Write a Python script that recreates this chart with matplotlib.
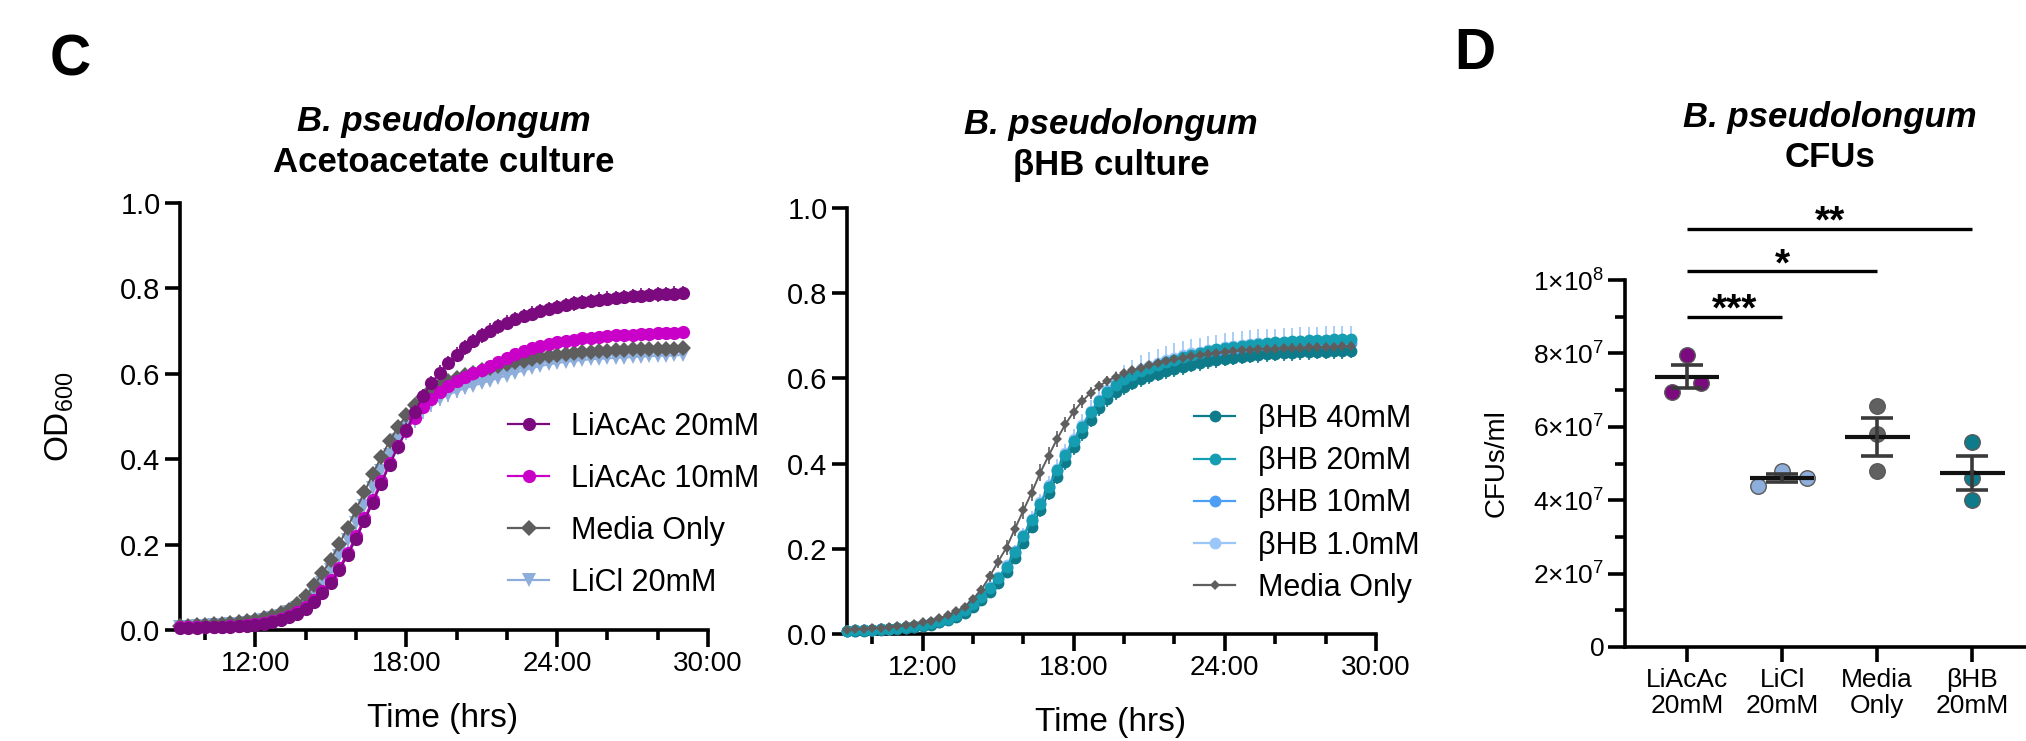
import numpy as np
import matplotlib
matplotlib.use("Agg")
import matplotlib.pyplot as plt
from matplotlib.lines import Line2D
from matplotlib.ticker import FuncFormatter

# =====================================================
# SETUP
# =====================================================

W, H = 2026, 741

plt.rcParams.update({
    "font.family": ["Liberation Sans", "DejaVu Sans"],
    "mathtext.fontset": "custom",
    "mathtext.rm": "Liberation Sans",
    "mathtext.it": "Liberation Sans:italic",
    "mathtext.bf": "Liberation Sans:bold",
    "axes.linewidth": 2.6,
    "xtick.major.width": 2.6,
    "ytick.major.width": 2.6,
    "xtick.minor.width": 2.6,
    "ytick.minor.width": 2.6,
    "text.color": "black",
})

PURPLE = "#7B0A7E"
MAGENTA = "#C800C8"
GRAY = "#5E5E5E"
LIGHTBLUE = "#8DAEDB"
TEAL_DK = "#0E7B8B"
TEAL = "#159DB1"
BLUE = "#4D9EF5"
BLUE_LT = "#9AC6F8"

# =====================================================
# DATA
# =====================================================

# plate reader, one read every 20 min from 9:00 to 29:00
time_h = 9 + np.arange(61) / 3

# --- C, acetoacetate culture ---
liacac20 = [
    0.005, 0.005, 0.005, 0.006, 0.006, 0.007, 0.008, 0.009, 0.010, 0.012,
    0.015, 0.019, 0.024, 0.030, 0.038, 0.050, 0.066, 0.086, 0.110, 0.140,
    0.175, 0.213, 0.255, 0.298, 0.342, 0.386, 0.428, 0.468, 0.510, 0.548,
    0.578, 0.603, 0.625, 0.645, 0.662, 0.677, 0.690, 0.701, 0.711, 0.720,
    0.728, 0.735, 0.741, 0.747, 0.752, 0.757, 0.761, 0.765, 0.768, 0.771,
    0.774, 0.776, 0.778, 0.780, 0.782, 0.783, 0.785, 0.786, 0.787, 0.788,
    0.789]
liacac20_err = [
    0.002, 0.002, 0.002, 0.002, 0.002, 0.002, 0.002, 0.002, 0.002, 0.003,
    0.003, 0.003, 0.004, 0.004, 0.005, 0.006, 0.007, 0.008, 0.009, 0.010,
    0.011, 0.012, 0.013, 0.014, 0.015, 0.015, 0.016, 0.016, 0.017, 0.017,
    0.017, 0.017, 0.017, 0.017, 0.017, 0.017, 0.017, 0.017, 0.017, 0.017,
    0.017, 0.017, 0.017, 0.017, 0.017, 0.017, 0.017, 0.017, 0.017, 0.017,
    0.017, 0.017, 0.017, 0.017, 0.017, 0.017, 0.017, 0.017, 0.017, 0.017,
    0.017]

liacac10 = [
    0.006, 0.006, 0.006, 0.007, 0.007, 0.008, 0.009, 0.010, 0.011, 0.013,
    0.016, 0.020, 0.025, 0.032, 0.041, 0.054, 0.070, 0.091, 0.116, 0.146,
    0.181, 0.220, 0.262, 0.305, 0.348, 0.390, 0.430, 0.465, 0.497, 0.522,
    0.542, 0.558, 0.571, 0.582, 0.592, 0.601, 0.610, 0.619, 0.628, 0.637,
    0.646, 0.653, 0.660, 0.665, 0.670, 0.674, 0.677, 0.680, 0.683, 0.685,
    0.687, 0.689, 0.690, 0.691, 0.692, 0.693, 0.694, 0.695, 0.695, 0.696,
    0.697]
liacac10_err = [
    0.002, 0.002, 0.002, 0.002, 0.002, 0.002, 0.002, 0.002, 0.002, 0.003,
    0.003, 0.003, 0.004, 0.005, 0.006, 0.007, 0.008, 0.009, 0.010, 0.011,
    0.012, 0.012, 0.011, 0.010, 0.009, 0.008, 0.007, 0.006, 0.006, 0.006,
    0.006, 0.006, 0.006, 0.006, 0.006, 0.006, 0.006, 0.006, 0.006, 0.006,
    0.006, 0.006, 0.006, 0.006, 0.006, 0.006, 0.006, 0.006, 0.006, 0.006,
    0.006, 0.006, 0.006, 0.006, 0.006, 0.006, 0.006, 0.006, 0.006, 0.006,
    0.006]

media_c = [
    0.010, 0.010, 0.011, 0.012, 0.013, 0.014, 0.016, 0.018, 0.020, 0.023,
    0.027, 0.032, 0.039, 0.048, 0.061, 0.080, 0.105, 0.133, 0.165, 0.201,
    0.240, 0.282, 0.323, 0.365, 0.405, 0.442, 0.475, 0.503, 0.526, 0.546,
    0.562, 0.574, 0.583, 0.591, 0.597, 0.603, 0.608, 0.613, 0.618, 0.623,
    0.627, 0.631, 0.635, 0.639, 0.642, 0.645, 0.647, 0.649, 0.651, 0.652,
    0.653, 0.654, 0.655, 0.656, 0.657, 0.657, 0.658, 0.658, 0.659, 0.659,
    0.660]
media_c_err = [
    0.002, 0.002, 0.002, 0.002, 0.002, 0.002, 0.002, 0.002, 0.002, 0.003,
    0.003, 0.003, 0.004, 0.005, 0.006, 0.007, 0.008, 0.009, 0.010, 0.011,
    0.012, 0.012, 0.012, 0.011, 0.010, 0.009, 0.008, 0.007, 0.006, 0.006,
    0.005, 0.005, 0.005, 0.005, 0.005, 0.005, 0.005, 0.005, 0.005, 0.005,
    0.005, 0.005, 0.005, 0.005, 0.005, 0.005, 0.005, 0.005, 0.005, 0.005,
    0.005, 0.005, 0.005, 0.005, 0.005, 0.005, 0.005, 0.005, 0.005, 0.005,
    0.005]

licl = [
    0.008, 0.008, 0.009, 0.010, 0.011, 0.012, 0.013, 0.015, 0.017, 0.019,
    0.023, 0.027, 0.033, 0.041, 0.052, 0.067, 0.087, 0.111, 0.140, 0.173,
    0.210, 0.250, 0.290, 0.332, 0.372, 0.410, 0.444, 0.474, 0.498, 0.517,
    0.531, 0.542, 0.551, 0.559, 0.566, 0.572, 0.578, 0.584, 0.590, 0.596,
    0.602, 0.608, 0.613, 0.618, 0.622, 0.625, 0.628, 0.630, 0.632, 0.634,
    0.635, 0.636, 0.637, 0.638, 0.639, 0.640, 0.641, 0.642, 0.642, 0.643,
    0.644]
licl_err = [
    0.002, 0.002, 0.002, 0.002, 0.002, 0.002, 0.002, 0.002, 0.002, 0.003,
    0.003, 0.004, 0.005, 0.006, 0.008, 0.010, 0.013, 0.016, 0.020, 0.025,
    0.030, 0.035, 0.038, 0.040, 0.040, 0.038, 0.035, 0.030, 0.026, 0.022,
    0.020, 0.018, 0.016, 0.015, 0.014, 0.013, 0.012, 0.011, 0.010, 0.010,
    0.010, 0.010, 0.010, 0.010, 0.010, 0.010, 0.010, 0.010, 0.010, 0.010,
    0.010, 0.010, 0.010, 0.010, 0.010, 0.010, 0.010, 0.010, 0.010, 0.010,
    0.010]

# --- C, bHB culture ---
bhb40 = [
    0.007, 0.008, 0.008, 0.009, 0.010, 0.011, 0.012, 0.014, 0.016, 0.019,
    0.022, 0.027, 0.033, 0.040, 0.050, 0.063, 0.079, 0.098, 0.120, 0.146,
    0.178, 0.214, 0.252, 0.290, 0.330, 0.368, 0.404, 0.438, 0.471, 0.503,
    0.530, 0.551, 0.567, 0.580, 0.590, 0.598, 0.605, 0.611, 0.617, 0.622,
    0.627, 0.632, 0.636, 0.640, 0.643, 0.646, 0.649, 0.651, 0.653, 0.655,
    0.657, 0.658, 0.659, 0.660, 0.661, 0.662, 0.663, 0.663, 0.664, 0.664,
    0.665]
bhb40_err = [
    0.002, 0.002, 0.002, 0.002, 0.002, 0.002, 0.002, 0.002, 0.002, 0.003,
    0.003, 0.003, 0.004, 0.005, 0.006, 0.007, 0.008, 0.009, 0.010, 0.011,
    0.012, 0.013, 0.014, 0.015, 0.016, 0.017, 0.018, 0.018, 0.018, 0.018,
    0.018, 0.018, 0.018, 0.018, 0.018, 0.018, 0.018, 0.018, 0.018, 0.018,
    0.018, 0.018, 0.018, 0.018, 0.018, 0.018, 0.018, 0.018, 0.018, 0.018,
    0.018, 0.018, 0.018, 0.018, 0.018, 0.018, 0.018, 0.018, 0.018, 0.018,
    0.018]

bhb20 = [
    0.008, 0.009, 0.009, 0.010, 0.011, 0.012, 0.014, 0.016, 0.018, 0.021,
    0.025, 0.030, 0.036, 0.044, 0.056, 0.071, 0.088, 0.108, 0.131, 0.158,
    0.192, 0.230, 0.268, 0.305, 0.345, 0.384, 0.420, 0.454, 0.487, 0.520,
    0.548, 0.569, 0.585, 0.598, 0.608, 0.617, 0.625, 0.632, 0.638, 0.644,
    0.650, 0.655, 0.660, 0.664, 0.668, 0.671, 0.674, 0.677, 0.679, 0.681,
    0.683, 0.685, 0.686, 0.687, 0.688, 0.689, 0.690, 0.691, 0.692, 0.692,
    0.693]
bhb20_err = [
    0.002, 0.002, 0.002, 0.002, 0.002, 0.002, 0.002, 0.002, 0.002, 0.003,
    0.003, 0.003, 0.004, 0.005, 0.006, 0.007, 0.007, 0.008, 0.008, 0.009,
    0.009, 0.010, 0.010, 0.010, 0.010, 0.010, 0.010, 0.010, 0.010, 0.010,
    0.010, 0.010, 0.010, 0.010, 0.010, 0.010, 0.010, 0.010, 0.010, 0.010,
    0.010, 0.010, 0.010, 0.010, 0.010, 0.010, 0.010, 0.010, 0.010, 0.010,
    0.010, 0.010, 0.010, 0.010, 0.010, 0.010, 0.010, 0.010, 0.010, 0.010,
    0.010]

bhb10 = [
    0.008, 0.008, 0.009, 0.010, 0.011, 0.012, 0.013, 0.015, 0.017, 0.020,
    0.024, 0.029, 0.035, 0.043, 0.054, 0.069, 0.086, 0.106, 0.129, 0.156,
    0.190, 0.228, 0.266, 0.304, 0.344, 0.383, 0.419, 0.453, 0.486, 0.518,
    0.545, 0.566, 0.582, 0.595, 0.605, 0.614, 0.622, 0.629, 0.635, 0.641,
    0.646, 0.651, 0.655, 0.659, 0.662, 0.665, 0.668, 0.670, 0.672, 0.674,
    0.675, 0.676, 0.677, 0.678, 0.679, 0.680, 0.680, 0.681, 0.681, 0.682,
    0.682]
bhb10_err = [
    0.002, 0.002, 0.002, 0.002, 0.002, 0.002, 0.002, 0.002, 0.002, 0.003,
    0.003, 0.003, 0.004, 0.005, 0.006, 0.007, 0.008, 0.009, 0.010, 0.011,
    0.012, 0.012, 0.012, 0.012, 0.012, 0.012, 0.012, 0.012, 0.012, 0.012,
    0.012, 0.012, 0.012, 0.012, 0.012, 0.012, 0.012, 0.012, 0.012, 0.012,
    0.012, 0.012, 0.012, 0.012, 0.012, 0.012, 0.012, 0.012, 0.012, 0.012,
    0.012, 0.012, 0.012, 0.012, 0.012, 0.012, 0.012, 0.012, 0.012, 0.012,
    0.012]

bhb1 = [
    0.008, 0.009, 0.009, 0.010, 0.011, 0.012, 0.014, 0.016, 0.018, 0.021,
    0.025, 0.030, 0.037, 0.045, 0.057, 0.072, 0.090, 0.110, 0.134, 0.161,
    0.195, 0.233, 0.271, 0.309, 0.349, 0.388, 0.424, 0.458, 0.491, 0.523,
    0.550, 0.572, 0.589, 0.602, 0.613, 0.622, 0.630, 0.637, 0.643, 0.649,
    0.654, 0.659, 0.663, 0.667, 0.670, 0.673, 0.676, 0.678, 0.680, 0.682,
    0.683, 0.684, 0.685, 0.686, 0.687, 0.688, 0.688, 0.689, 0.689, 0.690,
    0.690]
bhb1_err = [
    0.002, 0.002, 0.002, 0.002, 0.002, 0.002, 0.002, 0.002, 0.002, 0.003,
    0.003, 0.003, 0.004, 0.005, 0.006, 0.007, 0.008, 0.009, 0.010, 0.011,
    0.013, 0.015, 0.017, 0.019, 0.021, 0.022, 0.023, 0.024, 0.025, 0.026,
    0.027, 0.028, 0.029, 0.030, 0.031, 0.032, 0.033, 0.033, 0.033, 0.033,
    0.033, 0.033, 0.033, 0.033, 0.033, 0.033, 0.033, 0.033, 0.033, 0.033,
    0.033, 0.033, 0.033, 0.033, 0.033, 0.033, 0.033, 0.033, 0.033, 0.033,
    0.033]

media_b = [
    0.010, 0.011, 0.012, 0.013, 0.014, 0.016, 0.018, 0.020, 0.023, 0.027,
    0.031, 0.037, 0.044, 0.053, 0.064, 0.082, 0.104, 0.135, 0.170, 0.203,
    0.247, 0.290, 0.332, 0.378, 0.418, 0.457, 0.492, 0.522, 0.546, 0.566,
    0.582, 0.594, 0.604, 0.612, 0.619, 0.625, 0.631, 0.636, 0.641, 0.645,
    0.649, 0.652, 0.655, 0.658, 0.660, 0.662, 0.664, 0.666, 0.667, 0.668,
    0.669, 0.670, 0.671, 0.672, 0.672, 0.673, 0.673, 0.674, 0.674, 0.675,
    0.675]
media_b_err = [
    0.002, 0.002, 0.002, 0.002, 0.002, 0.002, 0.002, 0.002, 0.002, 0.003,
    0.003, 0.003, 0.004, 0.005, 0.007, 0.009, 0.011, 0.013, 0.015, 0.017,
    0.018, 0.019, 0.020, 0.020, 0.020, 0.019, 0.018, 0.017, 0.016, 0.014,
    0.012, 0.011, 0.010, 0.010, 0.010, 0.010, 0.010, 0.010, 0.010, 0.010,
    0.010, 0.010, 0.010, 0.010, 0.010, 0.010, 0.010, 0.010, 0.010, 0.010,
    0.010, 0.010, 0.010, 0.010, 0.010, 0.010, 0.010, 0.010, 0.010, 0.010,
    0.010]

# --- D, CFUs (three replicates per group) ---
cfu_groups = ["LiAcAc\n20mM", "LiCl\n20mM", "Media\nOnly", "\u03b2HB\n20mM"]
cfu_liacac = [7.96e7, 6.96e7, 7.19e7]
cfu_licl = [4.40e7, 4.80e7, 4.60e7]
cfu_media = [6.58e7, 5.80e7, 4.80e7]
cfu_bhb = [5.59e7, 4.60e7, 4.01e7]
cfu_colors = [PURPLE, LIGHTBLUE, "#606060", TEAL_DK]

sig_pairs = [(0, 1), (0, 2), (0, 3)]
sig_labels = ["***", "*", "**"]


def px(x, y):
    return x / W, 1 - y / H


def axes_rect(x0, y0, x1, y1):
    return [x0 / W, 1 - y1 / H, (x1 - x0) / W, (y1 - y0) / H]


def hours(v, pos):
    return f"{int(round(v))}:00"


def style_growth(ax):
    ax.set_xlim(9, 30)
    ax.set_ylim(0, 1.0)
    ax.spines["top"].set_visible(False)
    ax.spines["right"].set_visible(False)
    ax.set_xticks([12, 18, 24, 30])
    ax.set_xticks([10, 14, 16, 20, 22, 26, 28], minor=True)
    ax.xaxis.set_major_formatter(FuncFormatter(hours))
    ax.set_yticks([0, 0.2, 0.4, 0.6, 0.8, 1.0])
    ax.yaxis.set_major_formatter(FuncFormatter(lambda v, p: f"{v:.1f}"))
    ax.tick_params(axis="x", which="major", length=12, labelsize=20, pad=3)
    ax.tick_params(axis="x", which="minor", length=7)
    ax.tick_params(axis="y", which="major", length=11, labelsize=21, pad=3)


def growth(ax, y, err, color, marker, ms, z, capsize=4.5):
    ax.errorbar(
        time_h, y, yerr=err,
        color=color, ecolor=color,
        marker=marker, markersize=ms, markeredgewidth=0,
        linewidth=1.4, elinewidth=1.2, capsize=capsize, capthick=1.2,
        zorder=z, clip_on=False,
    )


def handle(color, marker, ms):
    return Line2D([], [], color=color, marker=marker, markersize=ms,
                  markeredgewidth=0, linewidth=1.6)


fig = plt.figure(figsize=(W / 100, H / 100), dpi=100)

# =====================================================
# C LEFT, ACETOACETATE
# =====================================================

ax1 = fig.add_axes(axes_rect(180, 203, 708, 630))
style_growth(ax1)

growth(ax1, licl, licl_err, LIGHTBLUE, "v", 9.5, 3)
growth(ax1, media_c, media_c_err, GRAY, "D", 8, 4)
growth(ax1, liacac10, liacac10_err, MAGENTA, "o", 9.5, 5)
growth(ax1, liacac20, liacac20_err, PURPLE, "o", 9.5, 6)

ax1.legend(
    [handle(PURPLE, "o", 9.5), handle(MAGENTA, "o", 9.5),
     handle(GRAY, "D", 8), handle(LIGHTBLUE, "v", 9.5)],
    ["LiAcAc 20mM", "LiAcAc 10mM", "Media Only", "LiCl 20mM"],
    loc="upper left", bbox_to_anchor=px(508, 412), bbox_transform=fig.transFigure,
    frameon=False, fontsize=22, handlelength=1.35, handletextpad=0.72,
    labelspacing=0.72, borderpad=0, borderaxespad=0,
)

fig.text(*px(444, 131), "B. pseudolongum", ha="center", va="baseline",
         fontsize=25, fontweight="bold", fontstyle="italic")
fig.text(*px(444, 172), "Acetoacetate culture", ha="center", va="baseline",
         fontsize=25, fontweight="bold")
fig.text(*px(60, 417), r"OD$_{\mathregular{600}}$", ha="center", va="center",
         rotation=90, fontsize=24)
fig.text(*px(443, 718), "Time (hrs)", ha="center", va="center", fontsize=24)

# =====================================================
# C MIDDLE, BHB
# =====================================================

ax2 = fig.add_axes(axes_rect(847, 208, 1376, 634))
style_growth(ax2)

growth(ax2, bhb1, bhb1_err, BLUE_LT, "o", 8.5, 3, capsize=4)
growth(ax2, bhb10, bhb10_err, BLUE, "o", 8.5, 4, capsize=4)
growth(ax2, bhb40, bhb40_err, TEAL_DK, "o", 8.5, 5, capsize=4)
growth(ax2, bhb20, bhb20_err, TEAL, "o", 8.5, 6, capsize=4)
growth(ax2, media_b, media_b_err, GRAY, "D", 5.5, 7, capsize=4)

ax2.legend(
    [handle(TEAL_DK, "o", 8.5), handle(TEAL, "o", 8.5), handle(BLUE, "o", 8.5),
     handle(BLUE_LT, "o", 8.5), handle(GRAY, "D", 5.5)],
    ["\u03b2HB 40mM", "\u03b2HB 20mM", "\u03b2HB 10mM", "\u03b2HB 1.0mM", "Media Only"],
    loc="upper left", bbox_to_anchor=px(1194, 404), bbox_transform=fig.transFigure,
    frameon=False, fontsize=22, handlelength=1.35, handletextpad=0.75,
    labelspacing=0.4, borderpad=0, borderaxespad=0,
)

fig.text(*px(1111, 134), "B. pseudolongum", ha="center", va="baseline",
         fontsize=25, fontweight="bold", fontstyle="italic")
fig.text(*px(1111, 175), "\u03b2HB culture", ha="center", va="baseline",
         fontsize=25, fontweight="bold")
fig.text(*px(1111, 723), "Time (hrs)", ha="center", va="center", fontsize=24)

# =====================================================
# D, CFUs
# =====================================================

ax3 = fig.add_axes(axes_rect(1625, 280, 2035, 647))
ax3.set_xlim(-0.653, 3.66)
ax3.set_ylim(0, 1e8)
ax3.spines["top"].set_visible(False)
ax3.spines["right"].set_visible(False)

groups = [cfu_liacac, cfu_licl, cfu_media, cfu_bhb]
jitter = [[0, -0.155, 0.15], [-0.25, 0, 0.26], [0, 0, 0], [0, 0, 0]]

for i, (vals, col, jit) in enumerate(zip(groups, cfu_colors, jitter)):
    vals = np.array(vals)
    ax3.scatter(i + np.array(jit), vals, s=125, color=col,
                edgecolor="#5a5a5a", linewidth=1.0, zorder=3)
    mean = vals.mean()
    sem = vals.std(ddof=1) / np.sqrt(len(vals))
    ax3.hlines(mean, i - 0.34, i + 0.34, color="#111111", lw=3, zorder=4)
    ax3.vlines(i, mean - sem, mean + sem, color="#3a3a3a", lw=2.6, zorder=4)
    ax3.hlines([mean - sem, mean + sem], i - 0.17, i + 0.17,
               color="#3a3a3a", lw=2.6, zorder=4)

# significance brackets sit above the axis top
sig_y = [9.0e7, 1.025e8, 1.14e8]
for (a, b), lab, yy in zip(sig_pairs, sig_labels, sig_y):
    ax3.plot([a, b], [yy, yy], color="black", lw=2.4, clip_on=False,
             solid_capstyle="butt")
    ax3.annotate(lab, ((a + b) / 2, yy), xytext=(0, -3), textcoords="offset points",
                 ha="center", va="baseline", fontsize=28, fontweight="bold",
                 annotation_clip=False)

ax3.set_xticks(range(len(cfu_groups)))
ax3.set_xticklabels(cfu_groups, fontsize=19, linespacing=1.1)
ax3.set_yticks([0, 2e7, 4e7, 6e7, 8e7, 1e8])
ax3.set_yticks([1e7, 3e7, 5e7, 7e7, 9e7], minor=True)
ax3.set_yticklabels(["0", r"2×10$^{\mathregular{7}}$", r"4×10$^{\mathregular{7}}$",
                     r"6×10$^{\mathregular{7}}$", r"8×10$^{\mathregular{7}}$",
                     r"1×10$^{\mathregular{8}}$"], fontsize=19)
ax3.tick_params(axis="y", which="major", length=12, pad=3)
ax3.tick_params(axis="y", which="minor", length=7)
ax3.tick_params(axis="x", which="major", length=11, pad=4)

fig.text(*px(1830, 127), "B. pseudolongum", ha="center", va="baseline",
         fontsize=25, fontweight="bold", fontstyle="italic")
fig.text(*px(1830, 167), "CFUs", ha="center", va="baseline",
         fontsize=25, fontweight="bold")
fig.text(*px(1497, 463), "CFUs/ml", ha="center", va="center",
         rotation=90, fontsize=20)

# panel letters
fig.text(*px(70, 61), "C", ha="center", va="center", fontsize=41, fontweight="bold")
fig.text(*px(1475, 54), "D", ha="center", va="center", fontsize=41, fontweight="bold")

fig.savefig("out.png", dpi=100)
